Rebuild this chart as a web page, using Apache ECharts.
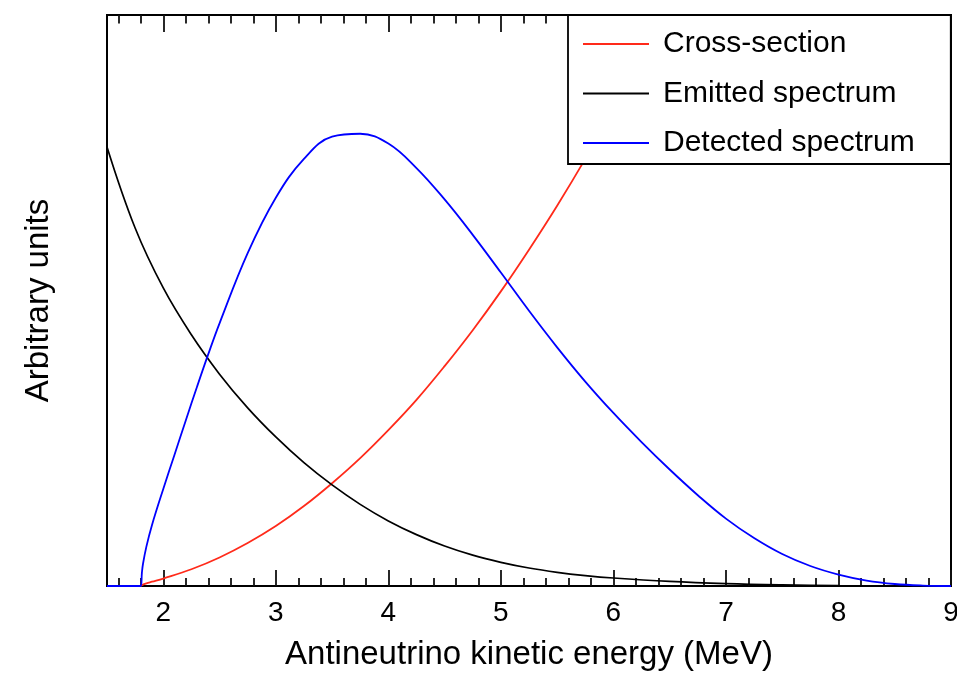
<!DOCTYPE html>
<html>
<head>
<meta charset="utf-8">
<script src="https://cdn.jsdelivr.net/npm/echarts@6/dist/echarts.min.js"></script>
<style>
  html, body { margin: 0; padding: 0; background: #fff; }
  #chart { width: 957px; height: 676px; }
</style>
</head>
<body>
<div id="chart"></div>
<script>
// ---- Data ----
const seriesNames = ['Cross-section', 'Emitted spectrum', 'Detected spectrum'];

const crossE = [1.8, 1.81, 1.85, 1.9, 2.0, 2.25, 2.5, 2.75, 3.0, 3.25, 3.5, 3.75, 4.0, 4.25, 4.5, 4.75, 5.0, 5.25, 5.5, 5.75, 6.0, 6.25, 6.5];
const crossV = [0, 0.15, 0.47, 0.75, 1.31, 2.93, 5.0, 7.53, 10.5, 14.0, 18.0, 22.4, 27.3, 32.6, 38.5, 44.8, 51.6, 58.9, 66.6, 74.8, 83.5, 92.6, 102.3];

const emittedE = [1.5, 1.75, 2.0, 2.25, 2.5, 2.75, 3.0, 3.25, 3.5, 3.75, 4.0, 4.25, 4.5, 4.75, 5.0, 5.25, 5.5, 5.75, 6.0, 6.5, 7.0, 7.5, 8.0, 8.5, 9.0];
const emittedV = [76.9, 62.7, 52.2, 44.0, 37.1, 31.2, 26.1, 21.6, 17.7, 14.3, 11.4, 9.0, 7.0, 5.4, 4.15, 3.15, 2.4, 1.83, 1.4, 0.8, 0.42, 0.2, 0.08, 0.03, 0.01];

const detectedE = [1.5, 1.8, 1.81, 1.82, 1.85, 1.9, 2.0, 2.1, 2.2, 2.3, 2.4, 2.5, 2.75, 3.0, 3.25, 3.5, 3.75, 4.0, 4.25, 4.5, 4.75, 5.0, 5.25, 5.5, 5.75, 6.0, 6.25, 6.5, 6.75, 7.0, 7.25, 7.5, 7.75, 8.0, 8.25, 8.5, 8.75, 9.0];
const detectedV = [0, 0, 2.3, 3.9, 6.9, 10.7, 17.0, 23.0, 29.0, 34.9, 40.6, 46.0, 58.3, 68.0, 74.8, 78.7, 79.2, 77.5, 73.2, 67.7, 61.5, 54.9, 48.2, 41.8, 35.8, 30.3, 25.2, 20.4, 15.9, 11.8, 8.4, 5.6, 3.5, 2.0, 0.95, 0.35, 0.08, 0];

const majorTicks = [2, 3, 4, 5, 6, 7, 8, 9];
const minorTicks = [1.6, 1.8, 2.2, 2.4, 2.6, 2.8, 3.2, 3.4, 3.6, 3.8, 4.2, 4.4, 4.6, 4.8, 5.2, 5.4, 5.6, 5.8, 6.2, 6.4, 6.6, 6.8, 7.2, 7.4, 7.6, 7.8, 8.2, 8.4, 8.6, 8.8];

const xTitle = 'Antineutrino kinetic energy (MeV)';
const yTitle = 'Arbitrary units';

// ---- Build ----
const pairs = (xs, ys) => xs.map((x, i) => [x, ys[i]]);
const FONT = 'Liberation Sans, Arial, Helvetica, sans-serif';

function tickAxis(position, ticks, len, showLabels, extra) {
  return Object.assign({
    type: 'value', min: 1.5, max: 9, position: position,
    axisLine: { show: false },
    splitLine: { show: false },
    axisTick: { show: true, inside: true, length: len, customValues: ticks,
                lineStyle: { color: '#111', width: 1.8 } },
    axisLabel: showLabels
      ? { show: true, customValues: ticks, color: '#000', fontSize: 28, fontFamily: FONT, margin: 13 }
      : { show: false }
  }, extra || {});
}

const chart = echarts.init(document.getElementById('chart'), null, { renderer: 'canvas' });
chart.setOption({
  animation: false,
  backgroundColor: '#fff',
  grid: { left: 107, right: 6, top: 15, bottom: 90, show: true, borderColor: '#000', borderWidth: 2,
          backgroundColor: 'transparent', containLabel: false, outerBoundsMode: 'none' },
  xAxis: [
    tickAxis('bottom', majorTicks, 16, true, {
      name: xTitle, nameLocation: 'middle', nameGap: 52,
      nameTextStyle: { color: '#000', fontSize: 33, fontFamily: FONT }
    }),
    tickAxis('bottom', minorTicks, 8, false),
    tickAxis('top', majorTicks, 17, false),
    tickAxis('top', minorTicks, 8.5, false)
  ],
  yAxis: {
    type: 'value', min: 0, max: 100,
    axisLine: { show: false }, axisTick: { show: false }, axisLabel: { show: false },
    splitLine: { show: false },
    name: yTitle, nameLocation: 'middle', nameGap: 52,
    nameTextStyle: { color: '#000', fontSize: 33, fontFamily: FONT }
  },
  legend: {
    data: seriesNames,
    orient: 'vertical',
    left: 568, top: 15,
    backgroundColor: '#fff',
    borderColor: '#000', borderWidth: 1.8,
    padding: [14, 36, 6, 15],
    itemWidth: 66, itemHeight: 2,
    itemGap: 19.5,
    icon: 'rect',
    textStyle: { color: '#000', fontSize: 30, fontFamily: FONT, lineHeight: 30, padding: [0, 0, 0, 9] }
  },
  series: [
    { name: seriesNames[0], type: 'line', data: pairs(crossE, crossV), showSymbol: false, smooth: 0.4, clip: true,
      lineStyle: { color: '#ff2a1a', width: 1.8 }, itemStyle: { color: '#ff2a1a' } },
    { name: seriesNames[1], type: 'line', data: pairs(emittedE, emittedV), showSymbol: false, smooth: 0.4, clip: true,
      lineStyle: { color: '#000', width: 1.7 }, itemStyle: { color: '#000' } },
    { name: seriesNames[2], type: 'line', data: pairs(detectedE, detectedV), showSymbol: false, smooth: 0.4, clip: true,
      lineStyle: { color: '#0000ff', width: 1.8 }, itemStyle: { color: '#0000ff' } }
  ]
});
</script>
</body>
</html>
